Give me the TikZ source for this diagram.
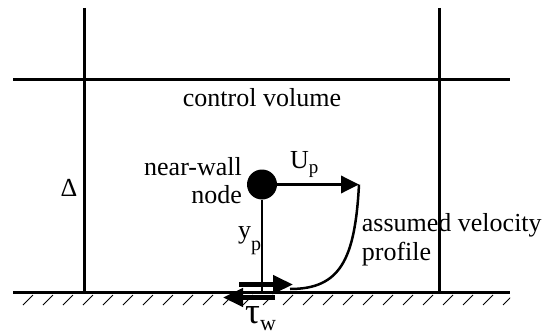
\documentclass[tikz,border=0pt]{standalone}
\usepackage{fontspec}
\setmainfont{Liberation Serif}
\usetikzlibrary{arrows.meta}
\newcommand\lowsub[3]{\raisebox{-#1}{\fontsize{#2}{#2}\selectfont #3}}
\begin{document}
\begin{tikzpicture}[x=1pt,y=-1pt,
  frame/.style={line width=3pt},
  thinline/.style={line width=1.1pt},
  hatch/.style={line width=0.9pt},
  txt/.style={inner sep=0pt,font=\fontsize{26}{28}\selectfont},
  bigarrow/.style={line width=3.5pt,-{Triangle[length=18pt,width=17pt]}},
  wallarrow/.style={line width=4.2pt,-{Triangle[length=20pt,width=18pt]}},
]
\useasboundingbox (0,0) rectangle (556,334);
% frame
\coordinate (lt) at (84,8);  \coordinate (lb) at (84,292);
\coordinate (rt) at (439,8); \coordinate (rb) at (439,292);
\coordinate (hl) at (13,80); \coordinate (hr) at (510,80);
\coordinate (wl) at (13,292); \coordinate (wr) at (510,292);
\draw[frame] (lt) -- (lb);
\draw[frame] (rt) -- (rb);
\draw[frame] (hl) -- (hr);
\draw[frame] (wl) -- (wr);
\begin{scope}
  \clip (13,293) rectangle (510,307);
  \foreach \x in {23,43,...,503} \draw[hatch] (\x,305) -- ({\x+10},295);
\end{scope}
% near-wall node
\node[circle,fill,inner sep=0pt,minimum size=30pt] (n) at (262,184.5) {};
\coordinate (wp) at (262,292);
\draw[thinline] (n.south) -- (wp);
\coordinate (up) at (359,184.5);
\draw[bigarrow] (n.east) -- (up);
% velocity profile
\coordinate (cw) at (290,289);
\draw[line width=2.5pt] (up) .. controls (355,260) and (340,289) .. (cw);
% wall arrows
\coordinate (sa0) at (239,284.5); \coordinate (sa1) at (293,284.5);
\draw[wallarrow] (sa0) -- (sa1);
\coordinate (ta0) at (275,297.5); \coordinate (ta1) at (223,297.5);
\draw[wallarrow] (ta0) -- (ta1);
% texts
\node[txt,anchor=base] (cv) at (262,106.5) {control volume};
\node[txt,anchor=base] (delta) at (69,196.5) {Δ};
\node[txt,anchor=base east] (nw) at (242,175) {near-wall};
\node[txt,anchor=base east] (nd) at (242,203) {node};
\node[txt,anchor=base west] (U) at (290,168.3) {U\lowsub{5pt}{19}{p}};
\node[txt,anchor=base west] (y) at (238,238.7) {y\lowsub{12pt}{20}{p}};
\node[txt,anchor=base west] (av) at (361.7,231.7) {assumed velocity};
\node[txt,anchor=base west] (pr) at (361.7,260) {profile};
\node[anchor=base west,inner sep=0pt] (tau) at (245,323) {\fontsize{37}{37}\selectfont τ\lowsub{7pt}{22}{w}};
\end{tikzpicture}
\end{document}
